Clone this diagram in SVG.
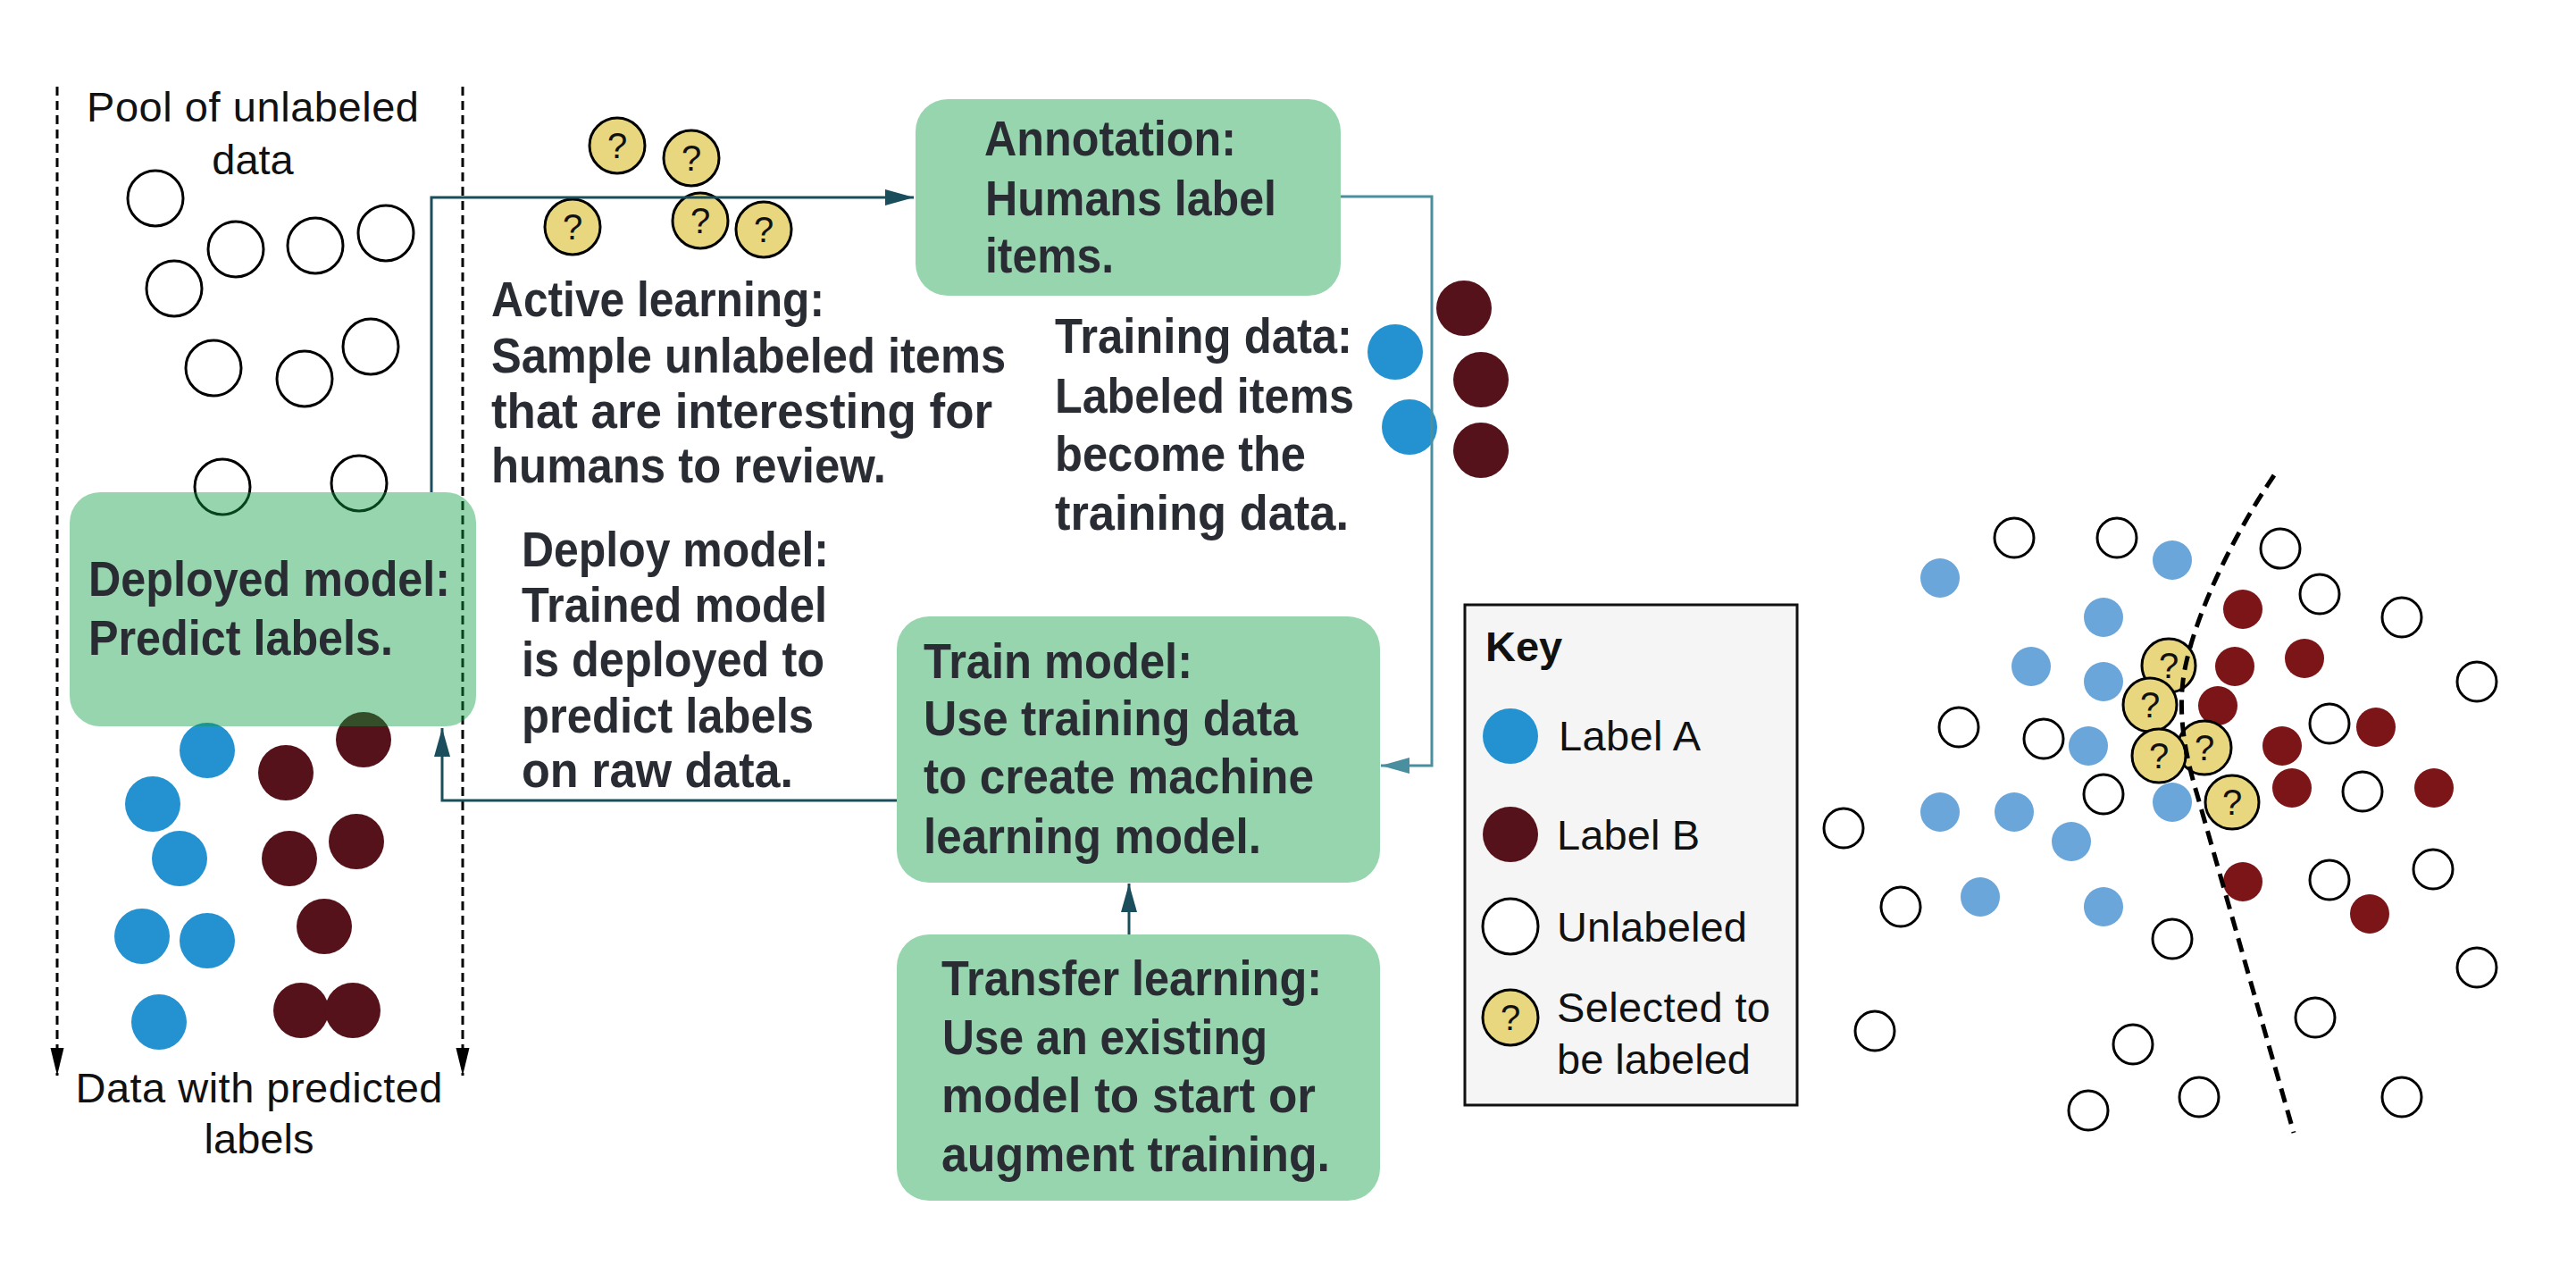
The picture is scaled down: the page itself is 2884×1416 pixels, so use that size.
<svg xmlns="http://www.w3.org/2000/svg" width="2884" height="1416" viewBox="0 0 2884 1416">
<style>
.reg{font-family:"Liberation Sans",Arial,sans-serif;font-size:47px;fill:#111}
.bold{font-family:"Liberation Sans",Arial,sans-serif;font-weight:bold;font-size:56px;fill:#2a2c34}
.box{fill:#0c9e40;fill-opacity:0.43}
.un{fill:none;stroke:#000;stroke-width:3}
.unw{fill:#fff;stroke:#000;stroke-width:3}
.ba{fill:#2491d1}
.rb{fill:#55121a}
.sa{fill:#6aa6d9}
.sb{fill:#7c1517}
.yq{fill:#e9d77f;stroke:#000;stroke-width:3}
.qm{font-family:"Liberation Sans",Arial,sans-serif;font-size:40px;fill:#111;text-anchor:middle}
.dk{fill:none;stroke:#1a4e5c;stroke-width:3}
.lt{fill:none;stroke:#4a8fa0;stroke-width:3}
.dash{fill:none;stroke:#000;stroke-width:3;stroke-dasharray:10 6}
</style>
<defs>
<marker id="ahd" markerUnits="userSpaceOnUse" markerWidth="34" markerHeight="20" refX="32" refY="9" orient="auto"><path d="M0,0 L32,9 L0,18 z" fill="#1a4e5c"/></marker>
<marker id="ahl" markerUnits="userSpaceOnUse" markerWidth="34" markerHeight="20" refX="32" refY="9" orient="auto"><path d="M0,0 L32,9 L0,18 z" fill="#4a8fa0"/></marker>
<marker id="ahk" markerUnits="userSpaceOnUse" markerWidth="32" markerHeight="16" refX="31" refY="7.5" orient="auto"><path d="M0,0 L31,7.5 L0,15 z" fill="#000"/></marker>
</defs>
<rect width="2884" height="1416" fill="#fff"/>

<g id="pool">
<line class="dash" x1="64" y1="97" x2="64" y2="1204" marker-end="url(#ahk)"/>
<line class="dash" x1="518" y1="97" x2="518" y2="1204" marker-end="url(#ahk)"/>
<text class="reg" x="283" y="136" text-anchor="middle" textLength="372">Pool of unlabeled</text>
<text class="reg" x="283" y="195" text-anchor="middle">data</text>
<circle class="un" cx="174" cy="222" r="31"/>
<circle class="un" cx="195" cy="323" r="31"/>
<circle class="un" cx="264" cy="279" r="31"/>
<circle class="un" cx="353" cy="275" r="31"/>
<circle class="un" cx="432" cy="261" r="31"/>
<circle class="un" cx="239" cy="412" r="31"/>
<circle class="un" cx="341" cy="424" r="31"/>
<circle class="un" cx="415" cy="388" r="31"/>
<circle class="un" cx="249" cy="545" r="31"/>
<circle class="un" cx="402" cy="541" r="31"/>
<circle class="ba" cx="232" cy="840" r="31"/>
<circle class="ba" cx="171" cy="900" r="31"/>
<circle class="ba" cx="201" cy="961" r="31"/>
<circle class="ba" cx="159" cy="1048" r="31"/>
<circle class="ba" cx="232" cy="1053" r="31"/>
<circle class="ba" cx="178" cy="1144" r="31"/>
<circle class="rb" cx="407" cy="828" r="31"/>
<circle class="rb" cx="320" cy="865" r="31"/>
<circle class="rb" cx="324" cy="961" r="31"/>
<circle class="rb" cx="399" cy="942" r="31"/>
<circle class="rb" cx="363" cy="1037" r="31"/>
<circle class="rb" cx="337" cy="1131" r="31"/>
<circle class="rb" cx="395" cy="1131" r="31"/>
<text class="reg" x="290" y="1234" text-anchor="middle" textLength="411">Data with predicted</text>
<text class="reg" x="290" y="1291" text-anchor="middle">labels</text>
</g>

<g id="deployed-model">
<rect class="box" x="78" y="551" width="455" height="262" rx="34"/>
<text class="bold" x="99" y="667" textLength="405" lengthAdjust="spacingAndGlyphs">Deployed model:</text>
<text class="bold" x="99" y="733" textLength="341" lengthAdjust="spacingAndGlyphs">Predict labels.</text>
</g>

<g id="selected-items">
<circle class="yq" cx="691" cy="163" r="31"/><text class="qm" x="691" y="177">?</text>
<circle class="yq" cx="774" cy="177" r="31"/><text class="qm" x="774" y="191">?</text>
<circle class="yq" cx="641" cy="254" r="31"/><text class="qm" x="641" y="268">?</text>
<circle class="yq" cx="784" cy="247" r="31"/><text class="qm" x="784" y="261">?</text>
<circle class="yq" cx="855" cy="257" r="31"/><text class="qm" x="855" y="271">?</text>
</g>

<g id="active-learning">
<text class="bold" x="550" y="354" textLength="373" lengthAdjust="spacingAndGlyphs">Active learning:</text>
<text class="bold" x="550" y="417" textLength="576" lengthAdjust="spacingAndGlyphs">Sample unlabeled items</text>
<text class="bold" x="550" y="479" textLength="561" lengthAdjust="spacingAndGlyphs">that are interesting for</text>
<text class="bold" x="550" y="540" textLength="442" lengthAdjust="spacingAndGlyphs">humans to review.</text>
</g>

<g id="deploy-model">
<text class="bold" x="584" y="634" textLength="344" lengthAdjust="spacingAndGlyphs">Deploy model:</text>
<text class="bold" x="584" y="696" textLength="342" lengthAdjust="spacingAndGlyphs">Trained model</text>
<text class="bold" x="584" y="757" textLength="339" lengthAdjust="spacingAndGlyphs">is deployed to</text>
<text class="bold" x="584" y="820" textLength="327" lengthAdjust="spacingAndGlyphs">predict labels</text>
<text class="bold" x="584" y="881" textLength="304" lengthAdjust="spacingAndGlyphs">on raw data.</text>
</g>

<g id="annotation">
<rect class="box" x="1025" y="111" width="476" height="220" rx="36"/>
<text class="bold" x="1102" y="174" textLength="282" lengthAdjust="spacingAndGlyphs">Annotation:</text>
<text class="bold" x="1103" y="241" textLength="326" lengthAdjust="spacingAndGlyphs">Humans label</text>
<text class="bold" x="1103" y="305" textLength="144" lengthAdjust="spacingAndGlyphs">items.</text>
</g>

<g id="training-data">
<text class="bold" x="1181" y="395" textLength="333" lengthAdjust="spacingAndGlyphs">Training data:</text>
<text class="bold" x="1181" y="462" textLength="335" lengthAdjust="spacingAndGlyphs">Labeled items</text>
<text class="bold" x="1181" y="527" textLength="281" lengthAdjust="spacingAndGlyphs">become the</text>
<text class="bold" x="1181" y="593" textLength="329" lengthAdjust="spacingAndGlyphs">training data.</text>
<circle class="ba" cx="1562" cy="394" r="31"/>
<circle class="ba" cx="1578" cy="478" r="31"/>
<circle class="rb" cx="1639" cy="345" r="31"/>
<circle class="rb" cx="1658" cy="425" r="31"/>
<circle class="rb" cx="1658" cy="504" r="31"/>
</g>

<g id="train-model">
<rect class="box" x="1004" y="690" width="541" height="298" rx="36"/>
<text class="bold" x="1034" y="759" textLength="301" lengthAdjust="spacingAndGlyphs">Train model:</text>
<text class="bold" x="1034" y="823" textLength="419" lengthAdjust="spacingAndGlyphs">Use training data</text>
<text class="bold" x="1034" y="888" textLength="437" lengthAdjust="spacingAndGlyphs">to create machine</text>
<text class="bold" x="1034" y="955" textLength="378" lengthAdjust="spacingAndGlyphs">learning model.</text>
</g>

<g id="transfer-learning">
<rect class="box" x="1004" y="1046" width="541" height="298" rx="36"/>
<text class="bold" x="1054" y="1114" textLength="426" lengthAdjust="spacingAndGlyphs">Transfer learning:</text>
<text class="bold" x="1055" y="1180" textLength="364" lengthAdjust="spacingAndGlyphs">Use an existing</text>
<text class="bold" x="1054" y="1245" textLength="419" lengthAdjust="spacingAndGlyphs">model to start or</text>
<text class="bold" x="1054" y="1311" textLength="435" lengthAdjust="spacingAndGlyphs">augment training.</text>
</g>

<g id="connectors">
<polyline class="dk" points="483,551 483,221 1023,221" marker-end="url(#ahd)"/>
<polyline class="lt" points="1501,220 1603,220 1603,857 1546,857" marker-end="url(#ahl)"/>
<polyline class="dk" points="1004,896 495,896 495,815" marker-end="url(#ahd)"/>
<line class="dk" x1="1264" y1="1046" x2="1264" y2="989" marker-end="url(#ahd)"/>
</g>

<g id="key">
<rect x="1640" y="677" width="372" height="560" fill="#f5f5f5" stroke="#111" stroke-width="3"/>
<text class="reg" x="1663" y="740" font-weight="bold" font-size="45">Key</text>
<circle class="ba" cx="1691" cy="824" r="31"/>
<text class="reg" x="1745" y="840" textLength="159">Label A</text>
<circle class="rb" cx="1691" cy="934" r="31"/>
<text class="reg" x="1743" y="951" textLength="160">Label B</text>
<circle class="unw" cx="1691" cy="1037" r="31"/>
<text class="reg" x="1743" y="1054" textLength="213">Unlabeled</text>
<circle class="yq" cx="1691" cy="1139" r="31"/><text class="qm" x="1691" y="1153">?</text>
<text class="reg" x="1743" y="1144" textLength="239">Selected to</text>
<text class="reg" x="1743" y="1202">be labeled</text>
</g>

<g id="scatter">
<circle class="un" cx="2255" cy="602" r="22"/>
<circle class="un" cx="2370" cy="602" r="22"/>
<circle class="un" cx="2553" cy="614" r="22"/>
<circle class="un" cx="2597" cy="665" r="22"/>
<circle class="un" cx="2689" cy="691" r="22"/>
<circle class="un" cx="2773" cy="763" r="22"/>
<circle class="un" cx="2193" cy="814" r="22"/>
<circle class="un" cx="2288" cy="827" r="22"/>
<circle class="un" cx="2608" cy="810" r="22"/>
<circle class="un" cx="2355" cy="889" r="22"/>
<circle class="un" cx="2645" cy="886" r="22"/>
<circle class="un" cx="2064" cy="927" r="22"/>
<circle class="un" cx="2128" cy="1015" r="22"/>
<circle class="un" cx="2608" cy="985" r="22"/>
<circle class="un" cx="2724" cy="973" r="22"/>
<circle class="un" cx="2432" cy="1051" r="22"/>
<circle class="un" cx="2773" cy="1083" r="22"/>
<circle class="un" cx="2592" cy="1139" r="22"/>
<circle class="un" cx="2099" cy="1154" r="22"/>
<circle class="un" cx="2388" cy="1169" r="22"/>
<circle class="un" cx="2338" cy="1243" r="22"/>
<circle class="un" cx="2462" cy="1228" r="22"/>
<circle class="un" cx="2689" cy="1228" r="22"/>
<circle class="sa" cx="2172" cy="647" r="22"/>
<circle class="sa" cx="2432" cy="627" r="22"/>
<circle class="sa" cx="2355" cy="691" r="22"/>
<circle class="sa" cx="2274" cy="746" r="22"/>
<circle class="sa" cx="2355" cy="763" r="22"/>
<circle class="sa" cx="2338" cy="835" r="22"/>
<circle class="sa" cx="2172" cy="909" r="22"/>
<circle class="sa" cx="2255" cy="909" r="22"/>
<circle class="sa" cx="2432" cy="898" r="22"/>
<circle class="sa" cx="2319" cy="942" r="22"/>
<circle class="sa" cx="2217" cy="1004" r="22"/>
<circle class="sa" cx="2355" cy="1015" r="22"/>
<circle class="sb" cx="2511" cy="682" r="22"/>
<circle class="sb" cx="2502" cy="746" r="22"/>
<circle class="sb" cx="2580" cy="737" r="22"/>
<circle class="sb" cx="2483" cy="790" r="22"/>
<circle class="sb" cx="2660" cy="814" r="22"/>
<circle class="sb" cx="2555" cy="835" r="22"/>
<circle class="sb" cx="2566" cy="882" r="22"/>
<circle class="sb" cx="2725" cy="882" r="22"/>
<circle class="sb" cx="2511" cy="987" r="22"/>
<circle class="sb" cx="2653" cy="1023" r="22"/>
<circle class="yq" cx="2428" cy="745" r="30"/><text class="qm" x="2428" y="759">?</text>
<circle class="yq" cx="2407" cy="789" r="30"/><text class="qm" x="2407" y="803">?</text>
<circle class="yq" cx="2468" cy="837" r="30"/><text class="qm" x="2468" y="851">?</text>
<circle class="yq" cx="2417" cy="846" r="30"/><text class="qm" x="2417" y="860">?</text>
<circle class="yq" cx="2499" cy="898" r="30"/><text class="qm" x="2499" y="912">?</text>
<path d="M2546,532 C2500,600 2462,680 2448,740 C2436,790 2445,840 2460,890 L2568,1268" fill="none" stroke="#000" stroke-width="5" stroke-dasharray="16 9"/>
</g>
</svg>
